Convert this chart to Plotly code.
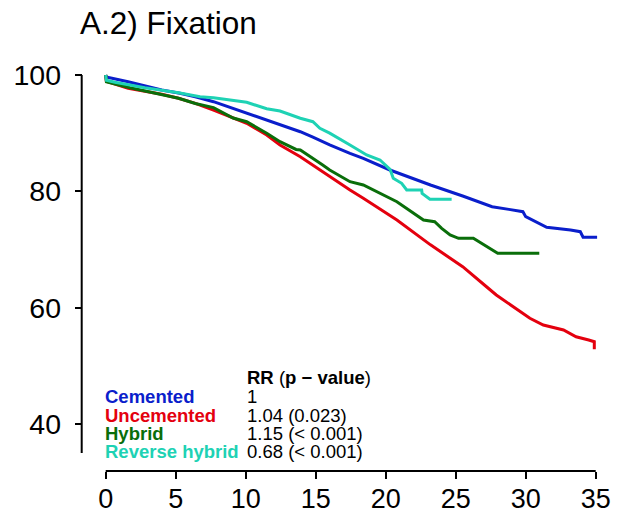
import plotly.graph_objects as go

# ---------------- data ----------------
series_names = ["Cemented", "Uncemented", "Hybrid", "Reverse hybrid"]
rr_labels = ["1", "1.04 (0.023)", "1.15 (< 0.001)", "0.68 (< 0.001)"]
rr_header = "<b>RR </b>(<b>p − value</b>)"
colors = ["#0A1ECB", "#E4000E", "#0A6E0A", "#1ED2B4"]

x_ticks = [0, 5, 10, 15, 20, 25, 30, 35]
y_ticks = [40, 60, 80, 100]

cemented_t = [0, 0.03, 1.6, 4.0, 5.3, 6.4, 7.7, 10.07, 12.45, 13.9, 14.8, 16.0, 17.45,
              18.4, 20.3, 23.2, 25.5, 27.6, 28.8, 29.8, 30.0, 30.5, 31.5, 33.2, 33.9,
              34.1, 35.1]
cemented_s = [100, 99.65, 98.85, 97.42, 96.85, 96.27, 95.41, 93.42, 91.4, 90.25, 89.3,
              87.97, 86.54, 85.68, 83.67, 81.09, 79.2, 77.36, 76.9, 76.5, 75.64, 75.07,
              73.82, 73.35, 73.06, 72.1, 72.1]

uncemented_t = [0, 0.05, 1.6, 4.0, 5.2, 6.4, 7.7, 9.1, 10.07, 11.5, 12.45, 13.9, 14.8,
                16.0, 17.45, 18.4, 20.8, 23.2, 25.5, 27.2, 27.9, 30.3, 31.26, 32.7,
                33.6, 34.5, 34.9, 34.9]
uncemented_s = [100, 98.9, 97.71, 96.68, 96.0, 95.13, 93.98, 92.56, 91.7, 89.69, 87.97,
                85.96, 84.5, 82.52, 80.23, 78.8, 75.07, 70.8, 67.05, 63.6, 62.18, 58.17,
                57.02, 56.16, 55.0, 54.44, 54.15, 52.85]

hybrid_t = [0, 0.05, 1.74, 5.2, 6.4, 7.7, 9.1, 10.07, 11.5, 12.45, 13.6, 13.9, 15.5,
            16.0, 17.45, 18.4, 20.8, 22.7, 23.5, 24.0, 24.6, 25.2, 26.26, 26.86, 27.2,
            28.0, 30.97]
hybrid_s = [100, 98.85, 97.8, 96.0, 95.1, 94.4, 92.6, 91.97, 90.0, 88.53, 87.2, 87.11,
            84.53, 83.67, 81.66, 81.09, 78.22, 75.07, 74.78, 73.64, 72.5, 71.93, 71.93,
            71.07, 70.5, 69.35, 69.35]

reverse_t = [0, 0.05, 0.66, 2.8, 5.2, 6.74, 7.7, 9.1, 10.07, 11.5, 12.45, 13.9, 14.8,
             15.3, 16.0, 17.45, 18.64, 19.59, 20.31, 20.54, 21.14, 21.5, 22.57, 22.6,
             23.16, 23.29, 24.71]
reverse_s = [100, 99.1, 98.74, 97.82, 96.96, 96.27, 96.1, 95.6, 95.3, 94.2, 93.8, 92.56,
             91.97, 90.84, 90.0, 87.97, 86.25, 85.39, 83.79, 82.24, 81.38, 80.23, 80.23,
             79.66, 78.63, 78.63, 78.63]

times = [cemented_t, uncemented_t, hybrid_t, reverse_t]
survs = [cemented_s, uncemented_s, hybrid_s, reverse_s]

# ---------------- layout geometry ----------------
W, H = 635, 516
ML, MR, MT, MB = 70, 15, 40, 45
PW = W - ML - MR
PH = H - MT - MB
PAPER_BOTTOM = H - MB

X0_PX = 105.7      # pixel of x = 0
X_SCALE = 14.0     # px per year
Y100_PX = 75.0     # pixel of y = 100
Y_SCALE = 5.817    # px per percent

def px_to_x(px):
    return (px - X0_PX) / X_SCALE

def py_to_y(py):
    return 100 - (py - Y100_PX) / Y_SCALE

xd_left, xd_right = 90, 615
yd_top, yd_bottom = 55, 462
x_domain = [(xd_left - ML) / PW, (xd_right - ML) / PW]
y_domain = [(PAPER_BOTTOM - yd_bottom) / PH, (PAPER_BOTTOM - yd_top) / PH]
x_range = [px_to_x(xd_left), px_to_x(xd_right)]
y_range = [py_to_y(yd_bottom), py_to_y(yd_top)]
yaxis_pos = (81.7 - ML) / PW

FONT = "Liberation Sans, Arial, sans-serif"

fig = go.Figure()
for name, t, s, c in zip(series_names, times, survs, colors):
    fig.add_trace(go.Scatter(x=t, y=s, mode="lines", name=name,
                             line=dict(color=c, width=3, shape="linear"),
                             hoverinfo="skip"))

# axis lines (R style: from first to last tick)
fig.add_shape(type="line", xref="x", yref="paper", x0=min(x_ticks), x1=max(x_ticks),
              y0=0, y1=0, line=dict(color="black", width=2))
fig.add_shape(type="line", xref="paper", yref="y", x0=yaxis_pos, x1=yaxis_pos,
              y0=35, y1=max(y_ticks), line=dict(color="black", width=2))

# legend table as text
rows_px = [396, 415, 433, 451]
fig.add_annotation(x=px_to_x(245), y=py_to_y(377), xref="x", yref="y", text=rr_header,
                   showarrow=False, xanchor="left", yanchor="middle",
                   font=dict(family=FONT, size=18.5, color="black"))
for name, rr, c, rp in zip(series_names, rr_labels, colors, rows_px):
    fig.add_annotation(x=px_to_x(102.5), y=py_to_y(rp), xref="x", yref="y",
                       text="<b>" + name + "</b>", showarrow=False, xanchor="left",
                       yanchor="middle", font=dict(family=FONT, size=18.5, color=c))
    fig.add_annotation(x=px_to_x(245), y=py_to_y(rp), xref="x", yref="y",
                       text=rr, showarrow=False, xanchor="left", yanchor="middle",
                       font=dict(family=FONT, size=18.5, color="black"))

fig.update_layout(
    width=W, height=H,
    margin=dict(l=ML, r=MR, t=MT, b=MB, pad=0),
    template="none",
    paper_bgcolor="white", plot_bgcolor="white",
    showlegend=False,
    title=dict(text="A.2) Fixation", xref="container", yref="container",
               x=80 / W, xanchor="left", y=1 - 23 / H, yanchor="middle",
               font=dict(family=FONT, size=31.5, color="black")),
    xaxis=dict(domain=x_domain, range=x_range, anchor="free", position=0,
               showgrid=False, zeroline=False, showline=False,
               tickmode="array", tickvals=x_ticks, ticktext=[str(v) for v in x_ticks],
               ticks="outside", ticklen=7, tickwidth=2, tickcolor="black",
               ticklabelstandoff=-3,
               tickfont=dict(family=FONT, size=27, color="black")),
    yaxis=dict(domain=y_domain, range=y_range, anchor="free", position=yaxis_pos,
               showgrid=False, zeroline=False, showline=False,
               tickmode="array", tickvals=y_ticks, ticktext=[str(v) for v in y_ticks],
               ticks="outside", ticklen=7, tickwidth=2, tickcolor="black",
               ticklabelstandoff=8,
               tickfont=dict(family=FONT, size=28.5, color="black")),
)

fig.write_html("out.html")
